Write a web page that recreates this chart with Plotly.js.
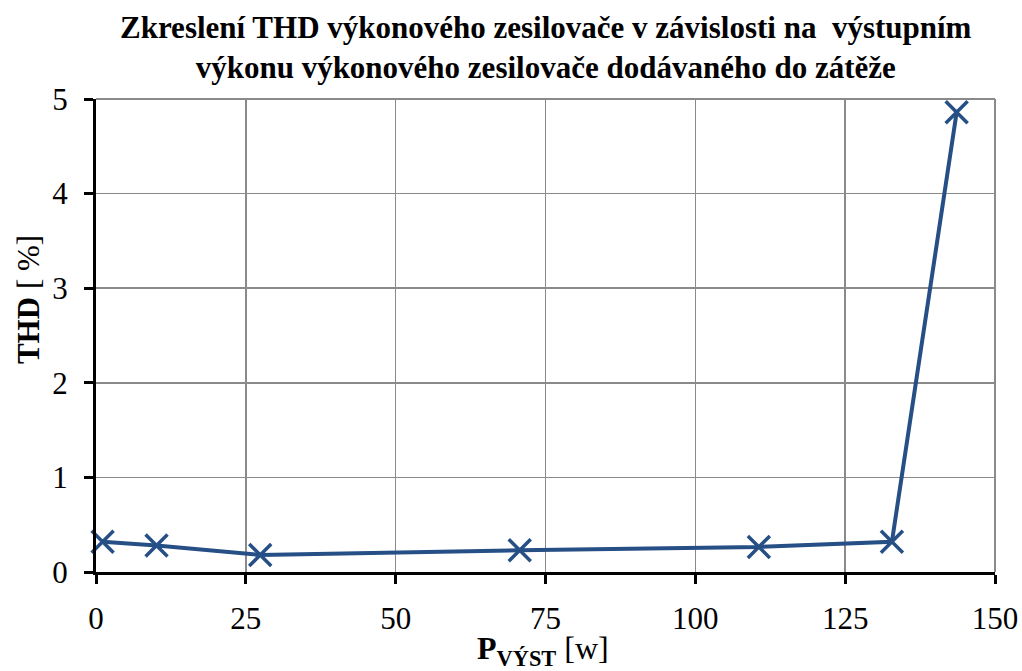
<!DOCTYPE html>
<html><head><meta charset="utf-8">
<script src="https://cdn.plot.ly/plotly-3.0.1.min.js"></script>
<style>html,body{margin:0;padding:0;background:#fff}</style>
</head><body>
<div id="chart" style="width:1022px;height:671px"></div>
<script>
const powerW = [1.1, 10.1, 27.4, 70.7, 110.6, 132.8, 143.6];
const thdPct = [0.32, 0.28, 0.18, 0.23, 0.265, 0.32, 4.86];
const xTicks = [0, 25, 50, 75, 100, 125, 150];
const yTicks = [0, 1, 2, 3, 4, 5];
const color = '#254f85';
const font = 'Liberation Serif, Times New Roman, serif';

Plotly.newPlot('chart', [{
  x: powerW, y: thdPct, mode: 'lines+markers', type: 'scatter',
  line: {color: color, width: 4},
  marker: {symbol: 'x-thin', size: 22, line: {color: color, width: 3.5}, color: color},
  cliponaxis: false, showlegend: false
}], {
  width: 1022, height: 671,
  margin: {l: 96, r: 27, t: 99, b: 99},
  paper_bgcolor: '#fff', plot_bgcolor: '#fff',
  font: {family: font, color: '#000', size: 31},
  annotations: [{
    text: '<b>Zkreslení THD výkonového zesilovače v závislosti na  výstupním<br>výkonu výkonového zesilovače dodávaného do zátěže</b>',
    xref: 'paper', yref: 'paper', x: 0.5, y: 1, xanchor: 'center', yanchor: 'bottom', yshift: 12,
    showarrow: false, font: {size: 31, family: font, color: '#000'}
  }, {
    text: '<b>THD</b> [ %]', textangle: -90,
    xref: 'paper', yref: 'paper', x: -0.0756, y: 0.575, xanchor: 'center', yanchor: 'middle',
    showarrow: false, font: {size: 31, family: font, color: '#000'}
  }, {
    text: '<b>P<sub>VÝST</sub></b> [w]',
    xref: 'paper', yref: 'paper', x: 0.497, y: -0.166, xanchor: 'center', yanchor: 'middle',
    showarrow: false, font: {size: 32, family: font, color: '#000'}
  }],
  xaxis: {range: [0, 150], tickvals: xTicks, ticktext: xTicks.map(String),
    showgrid: true, gridcolor: '#8a8a8a', gridwidth: 1.5,
    showline: true, linecolor: '#000', linewidth: 3, mirror: false,
    ticks: 'outside', ticklen: 9, tickwidth: 3, tickcolor: '#000',
    ticklabelstandoff: 8,
    zeroline: false, tickfont: {size: 31, family: font}},
  yaxis: {range: [0, 5], tickvals: yTicks, ticktext: yTicks.map(String),
    showgrid: true, gridcolor: '#8a8a8a', gridwidth: 1.5,
    showline: true, linecolor: '#000', linewidth: 3,
    ticks: 'outside', ticklen: 9, tickwidth: 3, tickcolor: '#000',
    ticklabelstandoff: 10,
    zeroline: false, tickfont: {size: 31, family: font}},
  shapes: [
    {type: 'line', xref: 'paper', yref: 'paper', x0: 0, x1: 1, y0: 1, y1: 1, line: {color: '#8a8a8a', width: 2}},
    {type: 'line', xref: 'paper', yref: 'paper', x0: 1, x1: 1, y0: 0, y1: 1, line: {color: '#8a8a8a', width: 2}}
  ]
}, {displayModeBar: false, staticPlot: true});
</script>
</body></html>
